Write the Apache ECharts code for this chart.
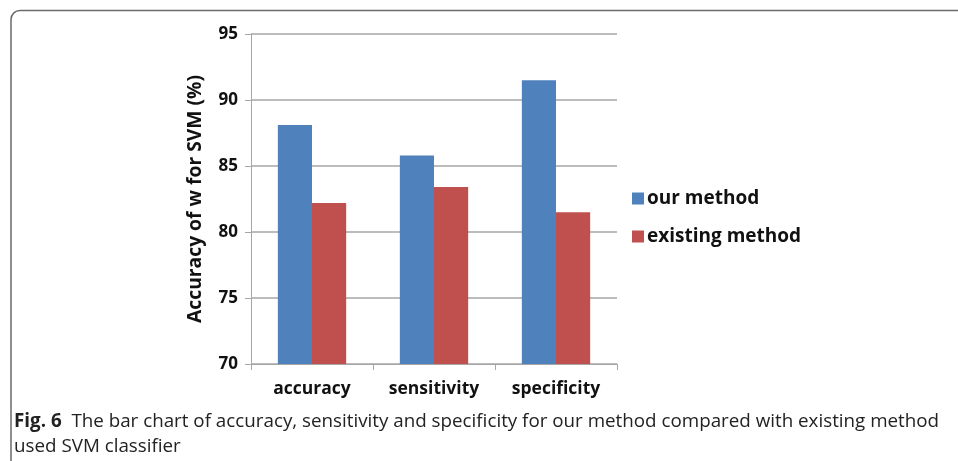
<!DOCTYPE html>
<html>
<head>
<meta charset="utf-8">
<script src="https://cdn.jsdelivr.net/npm/echarts@6/dist/echarts.min.js"></script>
<style>
  html, body { margin: 0; padding: 0; background: #ffffff; }
  #chart { width: 958px; height: 461px; }
</style>
</head>
<body>
<div id="chart"></div>
<script>
// Metrics compared for the SVM classifier
const categories = ['accuracy', 'sensitivity', 'specificity'];
const ourMethod = [88.1, 85.8, 91.5];
const existingMethod = [82.2, 83.4, 81.5];
const seriesNames = ['our method', 'existing method'];
const yTitle = 'Accuracy of w for SVM (%)';
const captionLabel = 'Fig. 6';
const captionLine1 = 'The bar chart of accuracy, sensitivity and specificity for our method compared with existing method';
const captionLine2 = 'used SVM classifier';

const chartFont = 'Open Sans';
const gridColor = '#a6a6a6';

const chart = echarts.init(document.getElementById('chart'), null, { renderer: 'canvas' });

chart.setOption({
  animation: false,
  backgroundColor: '#ffffff',
  textStyle: { fontFamily: chartFont },
  grid: { left: 251, right: 341, top: 34, bottom: 97, containLabel: false },
  legend: {
    orient: 'vertical',
    left: 627,
    top: 184,
    itemWidth: 12,
    itemHeight: 12,
    itemGap: 19,
    icon: 'rect',
    textStyle: { fontFamily: chartFont, fontWeight: 'bold', fontSize: 19, color: '#111', padding: [0, 0, 0, -2] },
    data: seriesNames
  },
  xAxis: {
    type: 'category',
    data: categories,
    axisLine: { show: true, lineStyle: { color: gridColor, width: 1 } },
    axisTick: { show: true, length: 6, lineStyle: { color: gridColor } },
    axisLabel: { fontFamily: chartFont, fontWeight: 'bold', fontSize: 17.5, color: '#111', margin: 16 }
  },
  yAxis: {
    type: 'value',
    min: 70,
    max: 95,
    interval: 5,
    name: yTitle,
    nameLocation: 'middle',
    nameGap: 46,
    nameRotate: 90,
    nameTextStyle: { fontFamily: chartFont, fontWeight: 'bold', fontSize: 19.3, color: '#111' },
    axisLine: { show: true, lineStyle: { color: gridColor, width: 1 } },
    axisTick: { show: true, length: 6, lineStyle: { color: gridColor } },
    axisLabel: { fontFamily: chartFont, fontWeight: 'bold', fontSize: 17, color: '#111', margin: 13 },
    splitLine: { show: true, lineStyle: { color: gridColor, width: 1.5 } }
  },
  series: [
    {
      name: seriesNames[0],
      type: 'bar',
      data: ourMethod,
      barGap: '0%',
      barCategoryGap: '44%',
      itemStyle: { color: '#4f81bd' }
    },
    {
      name: seriesNames[1],
      type: 'bar',
      data: existingMethod,
      itemStyle: { color: '#c0504d' }
    }
  ],
  graphic: [
    {
      type: 'rect',
      shape: { x: 11, y: 10.5, width: 1000, height: 500, r: 9 },
      style: { fill: 'none', stroke: '#6b6b6b', lineWidth: 1.5 },
      silent: true
    },
    {
      type: 'text',
      left: 14,
      top: 409,
      style: {
        text: '{b|' + captionLabel + '}  ' + captionLine1 + '\n' + captionLine2,
        font: '18.8px ' + chartFont,
        fill: '#222',
        lineHeight: 25,
        rich: {
          b: { fontFamily: chartFont, fontWeight: 'bold', fontSize: 18.8, fill: '#222' }
        }
      }
    }
  ]
});
</script>
</body>
</html>
